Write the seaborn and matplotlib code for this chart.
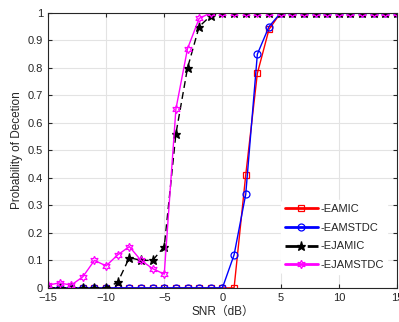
import numpy as np
import pandas as pd
import seaborn as sns
import matplotlib
matplotlib.use("Agg")
import matplotlib.pyplot as plt

snr = list(range(-15, 16))
eamic = [0]*17 + [0.41, 0.78, 0.94] + [1]*11
eamstdc = [0]*16 + [0.12, 0.34, 0.85, 0.95] + [1]*11
ejamic = [0, 0, 0, 0, 0, 0, 0.02, 0.11, 0.10, 0.10, 0.15, 0.56, 0.80, 0.95, 0.99] + [1]*16
ejamstdc = [0.01, 0.018, 0.01, 0.04, 0.10, 0.08, 0.12, 0.15, 0.10, 0.07, 0.05, 0.65, 0.87, 0.98, 1.0] + [1]*16
labels = ["-EAMIC", "-EAMSTDC", "-EJAMIC", "-EJAMSTDC"]

sns.set_style("white")
plt.rcParams['font.family'] = ['Liberation Sans', 'Noto Sans CJK SC', 'DejaVu Sans']

fig = plt.figure(figsize=(3.99, 3.22), dpi=100)
ax = fig.add_axes([0.120, 0.106, 0.875, 0.854])

df = pd.DataFrame({"snr": snr, "EAMIC": eamic, "EAMSTDC": eamstdc,
                   "EJAMIC": ejamic, "EJAMSTDC": ejamstdc})

styles = [
    ("EAMIC", "#ff0000", "s", "-", "none", 4),
    ("EAMSTDC", "#0000ff", "o", "-", "none", 5),
    ("EJAMIC", "#000000", "*", (0, (5, 3)), "#000000", 6.5),
    ("EJAMSTDC", "#ff00ff", (6, 1, 0), "-", "none", 6),
]
for (col, color, mk, ls, mfc, ms), lab in zip(styles, labels):
    sns.lineplot(data=df, x="snr", y=col, ax=ax, color=color, marker=mk,
                 linestyle=ls, markerfacecolor=mfc, markeredgecolor=color,
                 markersize=ms, linewidth=1.0, label=lab, markeredgewidth=0.9)

ax.set_xlim(-15, 15)
ax.set_ylim(0, 1)
ax.set_xticks(range(-15, 16, 5))
ax.set_yticks(np.round(np.arange(0, 1.01, 0.1), 1))
ax.set_yticklabels(["0"] + [f"{v:.1f}" for v in np.arange(0.1, 0.95, 0.1)] + ["1"])
ax.grid(True, color="#e3e3e3", linewidth=0.8)
ax.tick_params(direction="in", length=3, labelsize=8, colors="#262626",
               top=True, right=True, bottom=True, left=True)
for s in ax.spines.values():
    s.set_color("#262626")
    s.set_linewidth(0.8)
ax.set_xlabel("SNR（dB）", fontsize=8.5, color="#262626", labelpad=2)
ax.set_ylabel("Probability of Decetion", fontsize=8.5, color="#262626", labelpad=3)

leg = ax.legend(loc="center", bbox_to_anchor=(0.82, 0.185), frameon=True,
                fontsize=8, handlelength=3.0, handletextpad=0.2,
                labelspacing=0.8, borderpad=0.3)
leg.get_frame().set_edgecolor("white")
leg.get_frame().set_facecolor("white")
leg.get_frame().set_alpha(1)
for h in leg.get_lines():
    h.set_linewidth(2)

fig.savefig("out.png", dpi=100)
